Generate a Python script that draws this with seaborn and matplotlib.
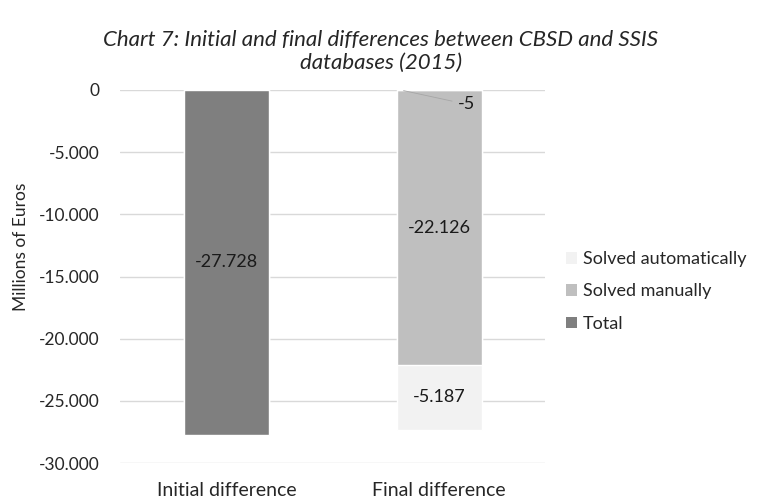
import numpy as np
import pandas as pd
import seaborn as sns
import matplotlib.pyplot as plt
from matplotlib.patches import Patch
from matplotlib.ticker import FuncFormatter

sns.set_style('white')
plt.rcParams['font.family'] = ['Lato', 'DejaVu Sans']

# data (millions of euros)
categories = ['Initial difference', 'Final difference']
total = [-27728, -5]
solved_manually = [0, -22126]
solved_automatically = [0, -5187]

series_names = ['Total', 'Solved manually', 'Solved automatically']
series_colors = ['#7f7f7f', '#bfbfbf', '#f2f2f2']


def fmt(v, pos=None):
    return f'{v:,.0f}'.replace(',', '.')


df = pd.DataFrame({'cat': categories, 'Total': total,
                   'Solved manually': solved_manually,
                   'Solved automatically': solved_automatically})
# stacked bars going down from 0: cumulative sums, deepest drawn first
cum = df[series_names].cumsum(axis=1)

fig = plt.figure(figsize=(7.66, 5.0), dpi=100)
ax = fig.add_axes([0.157, 0.074, 0.555, 0.746])

for name, color in reversed(list(zip(series_names, series_colors))):
    sns.barplot(x=df['cat'], y=cum[name], color=color, width=0.4,
                order=categories, saturation=1, ax=ax, zorder=3)

ax.set_ylim(-30000, 0)
ax.set_yticks(np.arange(-30000, 1, 5000))
ax.yaxis.set_major_formatter(FuncFormatter(fmt))
ax.grid(axis='y', color='#d9d9d9', linewidth=1, zorder=0)
ax.set_axisbelow(True)
sns.despine(ax=ax, left=True, bottom=True, top=True, right=True)
ax.tick_params(axis='y', length=0, pad=15, labelsize=12.5, labelcolor='#262626')
ax.tick_params(axis='x', length=0, pad=14, labelsize=14, labelcolor='#262626')
ax.set_xlabel('')
ax.set_ylabel('Millions of Euros', fontsize=12.5, color='#262626')
ax.yaxis.set_label_coords(-0.215, 0.58)

# value labels in the middle of each segment
for i, cat in enumerate(categories):
    prev = 0
    for name in series_names:
        v = df.loc[i, name]
        if v == 0:
            continue
        mid = prev + v / 2
        if abs(v) < 500:
            ax.annotate(fmt(v), xy=(i - 0.18, prev + v / 2), xytext=(i + 0.13, -1150),
                        ha='center', va='center', fontsize=13, color='#1a1a1a',
                        arrowprops=dict(arrowstyle='-', color='#a6a6a6', lw=0.6))
        else:
            ax.text(i, mid, fmt(v), ha='center', va='center', fontsize=13,
                    color='#1a1a1a', zorder=5)
        prev += v

handles = [Patch(facecolor=c, edgecolor='none', label=n)
           for n, c in zip(series_names, series_colors)][::-1]
ax.legend(handles=handles, loc='center left', bbox_to_anchor=(1.01, 0.46),
          frameon=False, fontsize=13, handlelength=0.6, handleheight=0.6,
          handletextpad=0.35, labelspacing=0.9, labelcolor='#262626')

fig.suptitle('Chart 7: Initial and final differences between CBSD and SSIS\ndatabases (2015)',
             x=0.497, y=0.94, fontsize=16, style='italic', color='#262626',
             linespacing=1.2)

fig.savefig('out.png', dpi=100)
